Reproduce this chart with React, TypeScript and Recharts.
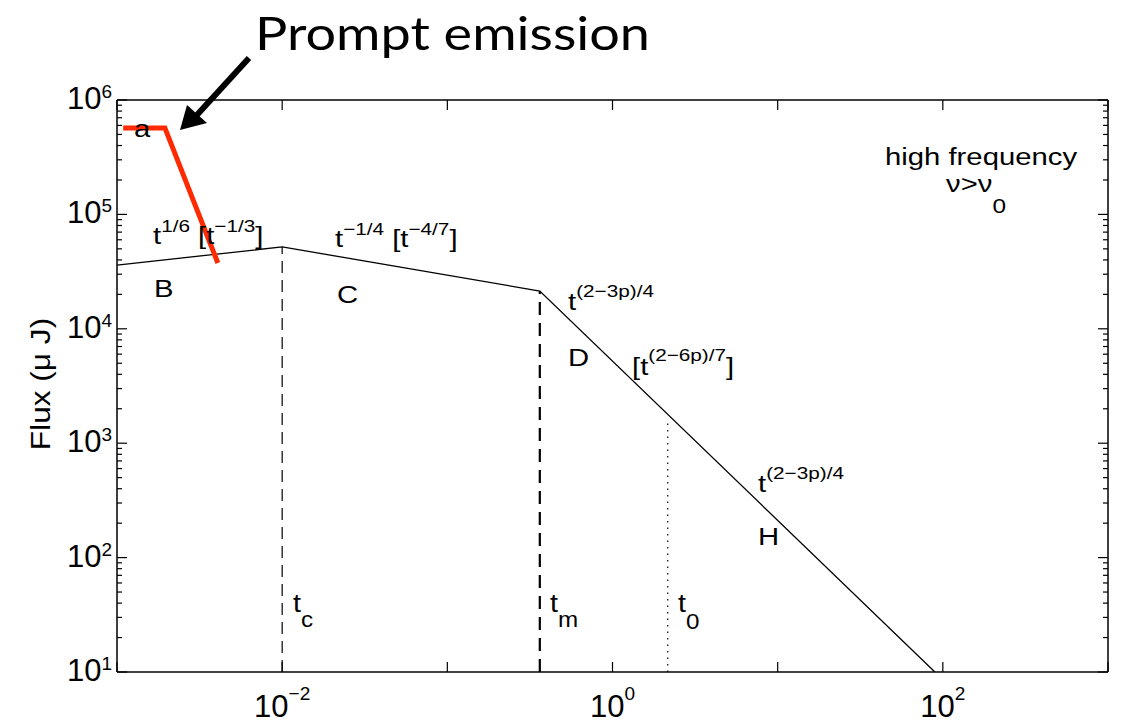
import React from 'react';
import { LineChart, Line, XAxis, YAxis } from 'recharts';

const FONT = '"Liberation Sans", Arial, Helvetica, sans-serif';

// broken power law (time, flux in μJ)
const afterglow = [
  { t: 1e-3, f: 3.6e4 },
  { t: 1e-2, f: 5.2e4 },
  { t: 0.363, f: 2.14e4 },
  { t: 89.5, f: 10 },
];
const prompt = [
  { t: 1.09e-3, f: 5.7e5 },
  { t: 1.95e-3, f: 5.7e5 },
  { t: 4.08e-3, f: 3.76e4 },
];
const tcLine = [{ t: 1e-2, f: 10 }, { t: 1e-2, f: 5.2e4 }];
const tmLine = [{ t: 0.363, f: 10 }, { t: 0.363, f: 2.14e4 }];
const t0Line = [{ t: 2.16, f: 10 }, { t: 2.16, f: 1.55e3 }];

const xTicks = [1e-3, 1e-2, 1e-1, 1, 10, 100, 1000];
const xLabelled = [1e-2, 1, 100];
const yDecades = [10, 100, 1e3, 1e4, 1e5];
const mantissas = [1, 2, 3, 4, 5, 6, 7, 8, 9];
const yTicks = [...yDecades.flatMap((d) => mantissas.map((m) => m * d)), 1e6];

const isDecade = (v: number) => {
  const e = Math.log10(v);
  return Math.abs(e - Math.round(e)) < 1e-6;
};
const expText = (v: number) => String(Math.round(Math.log10(v))).replace('-', '\u2212');

function LeftTick(props: any) {
  const { x, y, payload } = props;
  const major = isDecade(payload.value);
  return (
    <g>
      <line x1={x} x2={x + (major ? 10 : 5)} y1={y} y2={y} stroke="#000" strokeWidth={1.2} />
      {major && (
        <text x={x - 5} y={y + 9} textAnchor="end" fontSize={31} fontFamily={FONT} fill="#000">
          <tspan>10</tspan>
          <tspan dy={-11} fontSize={19}>{expText(payload.value)}</tspan>
        </text>
      )}
    </g>
  );
}

function RightTick(props: any) {
  const { x, y, payload } = props;
  const major = isDecade(payload.value);
  return <line x1={x} x2={x - (major ? 10 : 5)} y1={y} y2={y} stroke="#000" strokeWidth={1.2} />;
}

function BottomTick(props: any) {
  const { x, y, payload } = props;
  const v = payload.value;
  const labelled = xLabelled.some((l) => Math.abs(Math.log10(l) - Math.log10(v)) < 1e-6);
  return (
    <g>
      <line x1={x} x2={x} y1={y} y2={y - 10} stroke="#000" strokeWidth={1.2} />
      {labelled && (
        <text x={x} y={y + 45} textAnchor="middle" fontSize={31} fontFamily={FONT} fill="#000">
          <tspan>10</tspan>
          <tspan dy={-17} fontSize={19}>{expText(v)}</tspan>
        </text>
      )}
    </g>
  );
}

function TopTick(props: any) {
  const { x, y } = props;
  return <line x1={x} x2={x} y1={y} y2={y + 10} stroke="#000" strokeWidth={1.2} />;
}

type Part = { s: string; sup?: boolean; sub?: boolean };

function Label({ x, y, parts, size = 24, small = 17, sx = 1.22, rise = 12, drop = 15 }: any) {
  let level = 0;
  return (
    <text transform={`translate(${x},${y}) scale(${sx},1)`} fontSize={size} fontFamily={FONT} fill="#000">
      {(parts as Part[]).map((p, i) => {
        const target = p.sup ? -rise : p.sub ? drop : 0;
        const dy = target - level;
        level = target;
        return (
          <tspan key={i} dy={dy} fontSize={p.sup || p.sub ? small : size}>
            {p.s}
          </tspan>
        );
      })}
    </text>
  );
}

export default function App() {
  const axisLine = { stroke: '#000', strokeWidth: 1.5 };
  return (
    <div style={{ position: 'absolute', left: 0, top: 0, width: 1121, height: 725, background: '#fff' }}>
      <LineChart width={1121} height={725} margin={{ top: 99, right: 12, bottom: 52, left: 116 }}>
        <XAxis
          xAxisId="b"
          type="number"
          dataKey="t"
          scale="log"
          domain={[1e-3, 1e3]}
          allowDataOverflow
          ticks={xTicks}
          interval={0}
          height={1}
          tickSize={0}
          tickMargin={0}
          tickLine={false}
          axisLine={axisLine}
          tick={BottomTick}
        />
        <XAxis
          xAxisId="t"
          orientation="top"
          type="number"
          dataKey="t"
          scale="log"
          domain={[1e-3, 1e3]}
          allowDataOverflow
          ticks={xTicks}
          interval={0}
          height={1}
          tickSize={0}
          tickMargin={0}
          tickLine={false}
          axisLine={axisLine}
          tick={TopTick}
        />
        <YAxis
          yAxisId="l"
          type="number"
          dataKey="f"
          scale="log"
          domain={[10, 1e6]}
          allowDataOverflow
          ticks={yTicks}
          interval={0}
          width={1}
          tickSize={0}
          tickMargin={0}
          tickLine={false}
          axisLine={axisLine}
          tick={LeftTick}
        />
        <YAxis
          yAxisId="r"
          orientation="right"
          type="number"
          dataKey="f"
          scale="log"
          domain={[10, 1e6]}
          allowDataOverflow
          ticks={yTicks}
          interval={0}
          width={1}
          tickSize={0}
          tickMargin={0}
          tickLine={false}
          axisLine={axisLine}
          tick={RightTick}
        />
        <Line xAxisId="b" yAxisId="l" data={tcLine} dataKey="f" type="linear" stroke="#000" strokeWidth={1.2} strokeDasharray="12 7" dot={false} isAnimationActive={false} />
        <Line xAxisId="b" yAxisId="l" data={tmLine} dataKey="f" type="linear" stroke="#000" strokeWidth={2.2} strokeDasharray="13 8" dot={false} isAnimationActive={false} />
        <Line xAxisId="b" yAxisId="l" data={t0Line} dataKey="f" type="linear" stroke="#000" strokeWidth={1.2} strokeDasharray="1.5 5" dot={false} isAnimationActive={false} />
        <Line xAxisId="b" yAxisId="l" data={afterglow} dataKey="f" type="linear" stroke="#000" strokeWidth={1.3} dot={false} isAnimationActive={false} />
        <Line xAxisId="b" yAxisId="l" data={prompt} dataKey="f" type="linear" stroke="#ff2a00" strokeWidth={5} strokeLinejoin="miter" dot={false} isAnimationActive={false} />
      </LineChart>
      <svg width={1121} height={725} style={{ position: 'absolute', left: 0, top: 0, pointerEvents: 'none' }}>
        <text x={255} y={50} fontSize={46} fontFamily='Lato, "Open Sans", sans-serif' fill="#000" textLength={395} lengthAdjust="spacingAndGlyphs">
          Prompt emission
        </text>
        <line x1={249} y1={58} x2={196} y2={116} stroke="#000" strokeWidth={6} />
        <polygon points="180,130 187,105 207,123" fill="#000" />
        <text transform="translate(50,384) rotate(-90) scale(1.13,1)" textAnchor="middle" fontSize={28} fontFamily={FONT} fill="#000">
          Flux (μ J)
        </text>
        <Label x={134} y={137} parts={[{ s: 'a' }]} />
        <Label x={153} y={244} parts={[{ s: 't' }, { s: '1/6', sup: true }, { s: ' [t' }, { s: '\u22121/3', sup: true }, { s: ']' }]} />
        <Label x={154} y={297} parts={[{ s: 'B' }]} />
        <Label x={335} y={247} parts={[{ s: 't' }, { s: '\u22121/4', sup: true }, { s: ' [t' }, { s: '\u22124/7', sup: true }, { s: ']' }]} />
        <Label x={337} y={303} parts={[{ s: 'C' }]} />
        <Label x={568} y={310} rise={13} parts={[{ s: 't' }, { s: '(2\u22123p)/4', sup: true }]} />
        <Label x={568} y={366} parts={[{ s: 'D' }]} />
        <Label x={632} y={375} rise={14} parts={[{ s: '[t' }, { s: '(2\u22126p)/7', sup: true }, { s: ']' }]} />
        <Label x={758} y={492} rise={13} parts={[{ s: 't' }, { s: '(2\u22123p)/4', sup: true }]} />
        <Label x={758} y={545} parts={[{ s: 'H' }]} />
        <Label x={885} y={165} parts={[{ s: 'high frequency' }]} />
        <Label x={946} y={192} small={20} drop={21} parts={[{ s: 'ν>ν' }, { s: '0', sub: true }]} />
        <Label x={293} y={612} size={26} small={22} drop={15} sx={1.1} parts={[{ s: 't' }, { s: 'c', sub: true }]} />
        <Label x={550} y={612} size={26} small={22} drop={15} sx={1.1} parts={[{ s: 't' }, { s: 'm', sub: true }]} />
        <Label x={678} y={612} size={26} small={22} drop={17} sx={1.1} parts={[{ s: 't' }, { s: '0', sub: true }]} />
      </svg>
    </div>
  );
}
